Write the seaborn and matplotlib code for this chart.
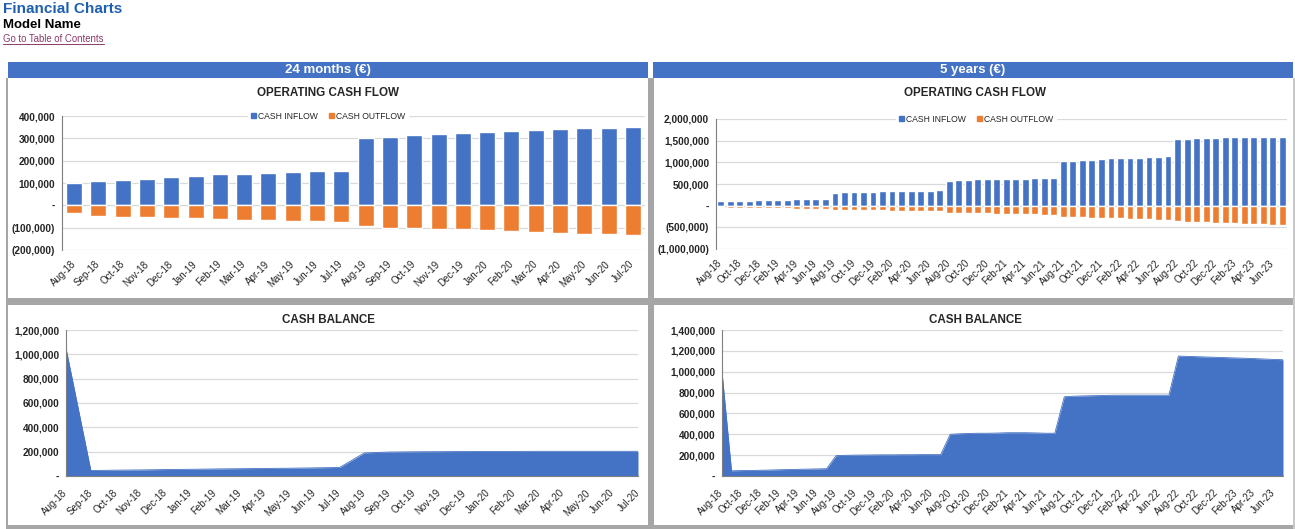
#!/usr/bin/env python3

import matplotlib
matplotlib.use("Agg")
import matplotlib.pyplot as plt
import seaborn as sns
import pandas as pd
import numpy as np
from matplotlib.patches import Rectangle, Patch
from matplotlib.lines import Line2D
from matplotlib.ticker import FuncFormatter, MultipleLocator

BLUE = '#4472C4'
ORANGE = '#ED7D31'
GRID = '#D9D9D9'
FRAME = '#A6A6A6'

# --- data ---
months_24 = pd.date_range('2018-08-01', periods=24, freq='MS').strftime('%b-%y').tolist()
months_60 = pd.date_range('2018-08-01', periods=60, freq='MS').strftime('%b-%y').tolist()

inflow_24 = [100000, 107000, 113000, 119000, 127000, 133000, 139000, 142000,
             146000, 149000, 152000, 155000, 300000, 307000, 313000, 320000,
             323000, 329000, 333000, 338000, 342000, 345000, 348000, 352000]
outflow_24 = [-34000, -48000, -52000, -52000, -55000, -58000, -61000, -64000,
              -67000, -70000, -70000, -74000, -92000, -101000, -101000, -106000,
              -107000, -110000, -116000, -120000, -123000, -127000, -130000, -133000]

inflow_60 = inflow_24 + [
    573000, 585000, 590000, 605000, 605000, 605000, 615000, 615000, 615000, 630000, 630000, 630000,
    1030000, 1040000, 1055000, 1055000, 1075000, 1090000, 1090000, 1105000, 1105000, 1125000, 1125000, 1145000,
    1545000, 1545000, 1560000, 1560000, 1560000, 1575000, 1575000, 1575000, 1575000, 1595000, 1595000, 1595000]
outflow_60 = outflow_24 + [
    -160000, -165000, -170000, -175000, -180000, -185000, -190000, -195000, -200000, -203000, -207000, -210000,
    -250000, -258000, -266000, -274000, -282000, -290000, -296000, -302000, -310000, -318000, -326000, -335000,
    -365000, -370000, -378000, -385000, -392000, -400000, -408000, -415000, -422000, -430000, -438000, -445000]

cash_24 = [1050000, 45000, 48000, 50000, 53000, 55000, 58000, 60000, 62000, 64000, 67000, 70000,
           190000, 197000, 199000, 200000, 201000, 202000, 202000, 203000, 203000, 203000, 203000, 203000]

cash_60 = [1000000, 50000, 52000, 53000, 55000, 57000, 60000, 62000, 64000, 66000, 68000, 70000,
           195000, 198000, 200000, 201000, 202000, 203000, 203000, 204000, 204000, 205000, 205000, 205000,
           400000, 405000, 408000, 410000, 410000, 412000, 415000, 415000, 415000, 413000, 410000, 410000,
           760000, 765000, 768000, 770000, 772000, 774000, 775000, 775000, 775000, 775000, 775000, 775000,
           1150000, 1147000, 1144000, 1141000, 1138000, 1135000, 1132000, 1129000, 1126000, 1122000, 1118000, 1115000]

W, H = 1295, 529

sns.set_theme(style='white')
plt.rcParams['font.family'] = ['Liberation Sans', 'DejaVu Sans']


def px_box(x0, y0, x1, y1):
    return [x0 / W, 1 - y1 / H, (x1 - x0) / W, (y1 - y0) / H]


def acct(v, pos):
    if abs(v) < 1e-6:
        return '-'
    s = f'{abs(v):,.0f}'
    return f'({s})' if v < 0 else s


def style_axis(ax, ymin, ymax, step):
    ax.set_ylim(ymin, ymax)
    ax.yaxis.set_major_locator(MultipleLocator(step))
    ax.yaxis.set_major_formatter(FuncFormatter(acct))
    ax.grid(axis='y', color=GRID, lw=0.9)
    ax.grid(axis='x', visible=False)
    ax.set_axisbelow(True)
    for s in ['top', 'right', 'bottom']:
        ax.spines[s].set_visible(False)
    ax.spines['left'].set_color('#7F7F7F')
    ax.spines['left'].set_linewidth(0.8)
    ax.tick_params(axis='y', length=3, width=0.6, color='#7F7F7F', labelsize=7.3, pad=2)
    for t in ax.get_yticklabels():
        t.set_fontweight('bold')
    ax.set_xlabel('')
    ax.set_ylabel('')


def set_month_ticks(ax, labels, every, ticklen, pad):
    ax.set_xticks(range(0, len(labels), every))
    ax.set_xticklabels(labels[::every], rotation=45, ha='right', rotation_mode='anchor',
                       fontsize=7, va='center')
    ax.tick_params(axis='x', length=ticklen, width=0.6, color='#7F7F7F', pad=pad)


def bar_panel(ax, labels, inflow, outflow, ymin, ymax, step, every, width, legend_x):
    df = pd.DataFrame({'month': labels, 'inflow': inflow, 'outflow': outflow})
    sns.barplot(data=df, x='month', y='inflow', color=BLUE, saturation=1, width=width, ax=ax)
    sns.barplot(data=df, x='month', y='outflow', color=ORANGE, saturation=1, width=width, ax=ax)
    ax.axhline(0, color='#BFBFBF', lw=0.8, zorder=0.5)
    ax.set_xlim(-0.5, len(labels) - 0.5)
    style_axis(ax, ymin, ymax, step)
    set_month_ticks(ax, labels, every, 0, 9)
    handles = [Patch(color=BLUE, label='CASH INFLOW'), Patch(color=ORANGE, label='CASH OUTFLOW')]
    top = ax.get_position().y1
    leg = ax.legend(handles=handles, loc='center', bbox_to_anchor=(legend_x / W, top),
                    bbox_transform=fig.transFigure, ncol=2,
                    frameon=True, facecolor='white', edgecolor='white', framealpha=1,
                    fontsize=6.2, handlelength=0.6, handleheight=0.6, handletextpad=0.3,
                    columnspacing=1.2, borderpad=0.3, fancybox=False)
    leg.set_zorder(5)


def area_panel(ax, labels, values, ymax, step, every):
    x = np.arange(len(values))
    sns.lineplot(x=x, y=values, color=BLUE, lw=0.6, ax=ax)
    ax.fill_between(x, values, color=BLUE, lw=0)
    ax.set_xlim(0, len(values) - 1)
    style_axis(ax, 0, ymax, step)
    ax.spines['bottom'].set_visible(True)
    ax.spines['bottom'].set_color('#7F7F7F')
    ax.spines['bottom'].set_linewidth(0.8)
    set_month_ticks(ax, labels, every, 3, 8)


fig = plt.figure(figsize=(W / 100, H / 100), dpi=100)

# frames, separators and header bands
for (x0, y0, x1, y1, c) in [
    (8, 62, 648, 78, BLUE), (653, 62, 1293, 78, BLUE),
    (648, 78, 654, 529, FRAME), (8, 298, 1293, 305, FRAME),
    (8, 525, 1295, 529, FRAME), (6, 78, 8, 529, FRAME), (1293, 78, 1295, 529, '#C8C8C8'),
]:
    b = px_box(x0, y0, x1, y1)
    fig.patches.append(Rectangle((b[0], b[1]), b[2], b[3], transform=fig.transFigure,
                                 color=c, lw=0, zorder=0))

fig.text(328 / W, 1 - 70.5 / H, '24 months (€)', color='white', fontsize=9.5,
         fontweight='bold', ha='center', va='center')
fig.text(973 / W, 1 - 70.5 / H, '5 years (€)', color='white', fontsize=9.5,
         fontweight='bold', ha='center', va='center')

fig.text(3 / W, 1 - 9 / H, 'Financial Charts', color='#1F5FAF', fontsize=11,
         fontweight='bold', ha='left', va='center')
fig.text(3 / W, 1 - 25 / H, 'Model Name', color='black', fontsize=9.5,
         fontweight='bold', ha='left', va='center')
link = fig.text(3 / W, 1 - 39 / H, 'Go to Table of Contents', color='#8B3A6B', fontsize=6.9,
                ha='left', va='center')
fig.canvas.draw()
bb = link.get_window_extent().transformed(fig.transFigure.inverted())
fig.add_artist(Line2D([bb.x0, bb.x1], [bb.y0, bb.y0], color='#8B3A6B', lw=0.7,
                      transform=fig.transFigure))

for xc, yc, txt in [(328, 93, 'OPERATING CASH FLOW'), (975, 93, 'OPERATING CASH FLOW'),
                    (328, 320, 'CASH BALANCE'), (975, 320, 'CASH BALANCE')]:
    fig.text(xc / W, 1 - yc / H, txt, fontsize=8.4, fontweight='bold', ha='center', va='center')

ax1 = fig.add_axes(px_box(62, 116, 645, 250))
bar_panel(ax1, months_24, inflow_24, outflow_24, -200000, 400000, 100000, 1, 0.66, 328)

ax2 = fig.add_axes(px_box(716, 119, 1287, 249))
bar_panel(ax2, months_60, inflow_60, outflow_60, -1000000, 2000000, 500000, 2, 0.72, 976)

ax3 = fig.add_axes(px_box(66, 330, 638, 476))
area_panel(ax3, months_24, cash_24, 1200000, 200000, 1)

ax4 = fig.add_axes(px_box(722, 330, 1283, 476))
area_panel(ax4, months_60, cash_60, 1400000, 200000, 2)

fig.savefig('out.png', dpi=100)
plt.close(fig)
